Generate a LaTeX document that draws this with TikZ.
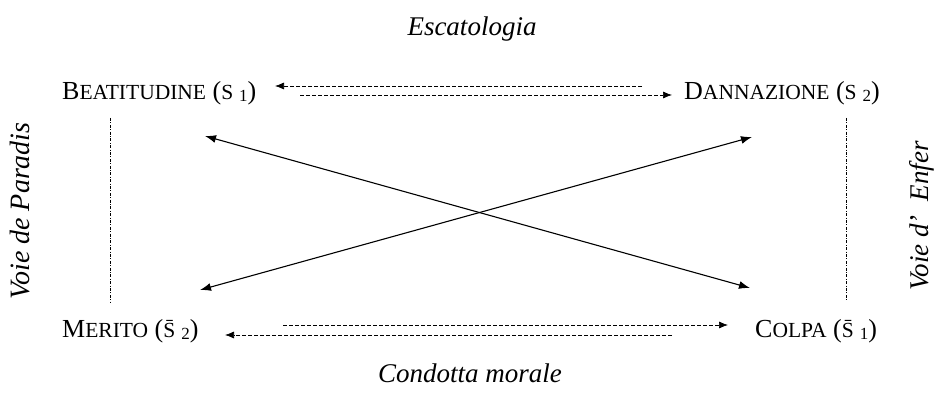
\documentclass[tikz,border=0pt]{standalone}
\usepackage{fontspec}
\setmainfont{Liberation Serif}
\usetikzlibrary{arrows.meta}
\newcommand\fsc[2]{#1{\fontsize{21.5}{22}\selectfont #2}}
\newcommand\fscs[1]{{\fontsize{21.5}{22}\selectfont #1}}
\newcommand\subdig[1]{\hspace{6pt}\raisebox{-0.15ex}{\fontsize{17}{17}\selectfont #1}}
\tikzset{
  lbl/.style={inner sep=0pt, anchor=base west, font=\fontsize{26}{30}\selectfont},
  ital/.style={inner sep=0pt, anchor=base, font=\fontsize{27}{30}\selectfont\itshape},
  dasharrow/.style={draw, line width=0.7pt, dash pattern=on 4pt off 2pt, -{Latex[length=9pt,width=7pt]}},
  cross/.style={draw, line width=1.1pt, {Latex[length=11pt,width=8pt]}-{Latex[length=11pt,width=8pt]}},
  side/.style={draw, line width=0.6pt, dash pattern=on 3pt off 1.5pt on 0.8pt off 1.5pt}
}
\begin{document}
\begin{tikzpicture}[x=1pt,y=-1pt]
\useasboundingbox (0,0) rectangle (935,403);
\node[ital] (esc) at (472,36) {Escatologia};
\node[ital] (cond) at (470,383) {Condotta morale};
\node[lbl] (b) at (62,100) {\fsc{B}{EATITUDINE} (\fscs{S}\subdig{1})};
\node[lbl] (d) at (684,100) {\fsc{D}{ANNAZIONE} (\fscs{S}\subdig{2})};
\node[lbl] (m) at (62,338) {\fsc{M}{ERITO} (\fscs{S̄}\subdig{2})};
\node[lbl] (c) at (755,338) {\fsc{C}{OLPA} (\fscs{S̄}\subdig{1})};
\node[ital, rotate=90, anchor=base, font=\fontsize{28}{30}\selectfont\itshape] (vp) at (29,211) {Voie de Paradis};
\node[ital, rotate=90, anchor=base] (ve) at (928,216) {Voie d'\hspace{14pt}Enfer};
% side lines
\coordinate (l1) at (110,118); \coordinate (l2) at (110,302);
\coordinate (r1) at (846,118); \coordinate (r2) at (846,300);
\draw[side] (l1) -- (l2);
\draw[side] (r1) -- (r2);
% top dashed arrows
\coordinate (t1s) at (642,86); \coordinate (t1e) at (275,86);
\coordinate (t2s) at (300,95); \coordinate (t2e) at (672,95);
\draw[dasharrow] (t1s) -- (t1e);
\draw[dasharrow] (t2s) -- (t2e);
% bottom dashed arrows
\coordinate (b1s) at (283,325); \coordinate (b1e) at (728,325);
\coordinate (b2s) at (672,335); \coordinate (b2e) at (225,335);
\draw[dasharrow] (b1s) -- (b1e);
\draw[dasharrow] (b2s) -- (b2e);
% crossing arrows
\coordinate (x1a) at (205,136); \coordinate (x1b) at (750,288);
\coordinate (x2a) at (200,290); \coordinate (x2b) at (752,137);
\draw[cross] (x1a) -- (x1b);
\draw[cross] (x2a) -- (x2b);
\end{tikzpicture}
\end{document}
